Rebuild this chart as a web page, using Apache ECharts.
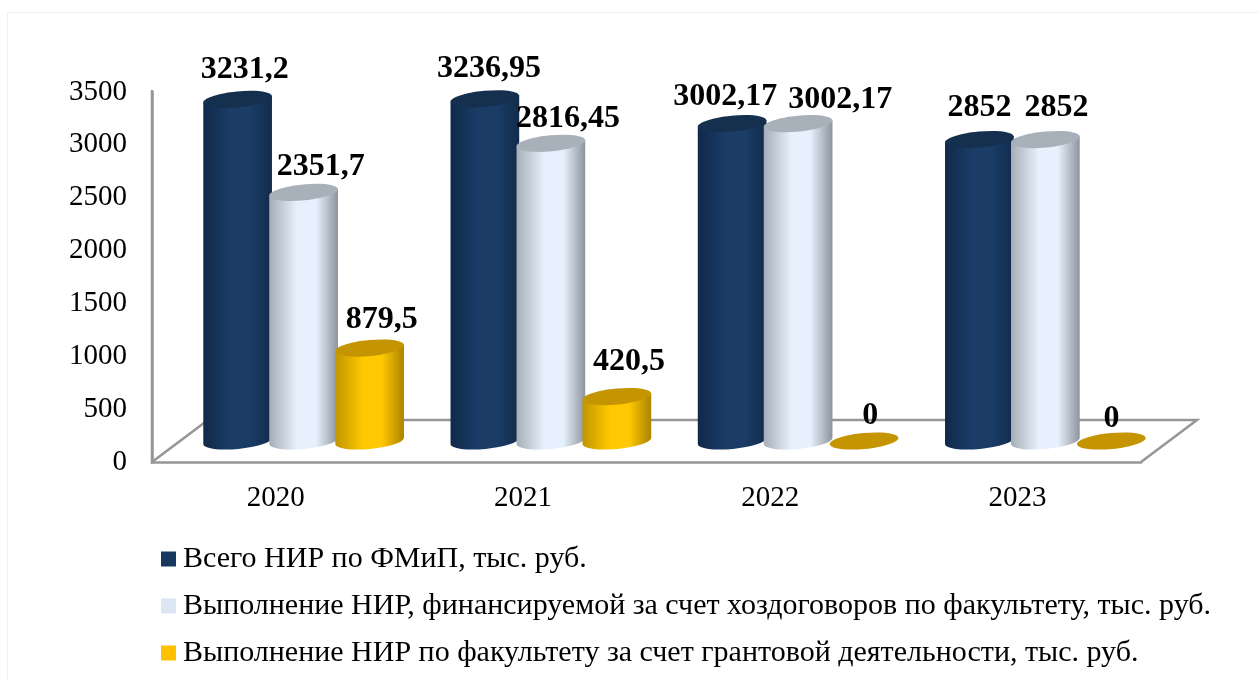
<!DOCTYPE html>
<html>
<head>
<meta charset="utf-8">
<style>
  html, body { margin: 0; padding: 0; background: #fff; }
  #chart { width: 1259px; height: 681px; }
</style>
<script src="https://cdn.jsdelivr.net/npm/echarts@6/dist/echarts.min.js"></script>
</head>
<body>
<div id="chart"></div>
<script>
const years = ['2020', '2021', '2022', '2023'];
const totalNir = [3231.2, 3236.95, 3002.17, 2852];
const contractNir = [2351.7, 2816.45, 3002.17, 2852];
const grantNir = [879.5, 420.5, 0, 0];
const seriesNames = [
  'Всего НИР по ФМиП, тыс. руб.',
  'Выполнение НИР, финансируемой за счет хоздоговоров по факультету, тыс. руб.',
  'Выполнение НИР по факультету за счет грантовой деятельности, тыс. руб.'
];

const font = '"Liberation Serif", "Times New Roman", serif';
// floor of the 3d box: how far the back edge sits from the front edge
const depthX = 56;
const depthY = 42;
const rx = 34.5;
const ry = 8;
const tilt = 5.5 * Math.PI / 180;
const barStep = 66;

// hand placed labels in the original: [dx, dy] from the top of each cylinder
const labelNudge = [
  [[7, -30], [4, -30], [-7, -27], [0, -32]],
  [[17, -26], [17, -25], [42, -24], [11, -32]],
  [[12, -28], [12, -35], [6, -25], [0, -22]]
];

const looks = [
  { legend: '#17375e', top: '#15304f', edge: ['#10294a', '#1a3c66', '#1a3c66', '#122b4c'] },
  { legend: '#dce6f2', top: '#a8b1ba', edge: ['#a6adb6', '#e6f1fd', '#e6f1fd', '#8c939c'] },
  { legend: '#ffc000', top: '#c49500', edge: ['#c09500', '#ffc800', '#ffc800', '#a98300'] }
];

function cylinder(seriesIndex) {
  const look = looks[seriesIndex];
  return function (params, api) {
    const cat = api.value(0);
    const val = api.value(1);
    const base = api.coord([cat, 0]);
    const top = api.coord([cat, val]);
    const cx = base[0] + depthX / 2 + (seriesIndex - 1) * barStep;
    const by = base[1] - depthY / 2;
    const ty = top[1] - depthY / 2;
    const sx = rx * Math.cos(tilt);
    const sy = rx * Math.sin(tilt);
    const nudge = labelNudge[seriesIndex][params.dataIndex];
    const children = [];
    if (val > 0) {
      children.push({
        type: 'path',
        shape: {
          pathData: 'M' + (cx - sx) + ' ' + (ty + sy) +
            'L' + (cx - sx) + ' ' + (by + sy) +
            'A' + rx + ' ' + ry + ' ' + (-5.5) + ' 0 0 ' + (cx + sx) + ' ' + (by - sy) +
            'L' + (cx + sx) + ' ' + (ty - sy) + 'Z'
        },
        style: {
          fill: new echarts.graphic.LinearGradient(0, 0, 1, 0, [
            { offset: 0, color: look.edge[0] },
            { offset: 0.4, color: look.edge[1] },
            { offset: 0.68, color: look.edge[2] },
            { offset: 1, color: look.edge[3] }
          ])
        }
      });
    }
    children.push({
      type: 'ellipse',
      shape: { cx: 0, cy: 0, rx: rx, ry: ry },
      x: cx,
      y: ty,
      rotation: tilt,
      style: { fill: look.top }
    });
    children.push({
      type: 'text',
      style: {
        text: String(val).replace('.', ','),
        x: cx + nudge[0],
        y: ty + nudge[1],
        align: 'center',
        verticalAlign: 'middle',
        font: 'bold 32px ' + font,
        fill: '#000'
      }
    });
    return { type: 'group', children: children };
  };
}

function floorFrame(params, api) {
  const left = api.coord([0, 0]);
  const band = api.size([1, 0])[0];
  const x0 = left[0] - band / 2;
  const x1 = x0 + band * years.length;
  const y0 = left[1];
  const yTop = api.coord([0, 3500])[1] - 2;
  return {
    type: 'polyline',
    shape: {
      points: [
        [x0, yTop],
        [x0, y0],
        [x0 + depthX, y0 - depthY],
        [x1 + depthX, y0 - depthY],
        [x1, y0]
      ]
    },
    style: { fill: null, stroke: '#969696', lineWidth: 2.5 }
  };
}

function toPairs(values) {
  return values.map(function (v, i) { return [i, v]; });
}

const chart = echarts.init(document.getElementById('chart'));
chart.setOption({
  backgroundColor: '#fff',
  animation: false,
  graphic: [{
    type: 'rect',
    silent: true,
    z: -10,
    shape: { x: 7.5, y: 12.5, width: 1300, height: 700 },
    style: { fill: '#fff', stroke: '#efefef', lineWidth: 1 }
  }],
  grid: { left: 152, right: 118, top: 92, bottom: 219 },
  legend: {
    orient: 'vertical',
    left: 156,
    top: 539,
    itemWidth: 15,
    itemHeight: 15,
    itemGap: 17,
    icon: 'rect',
    textStyle: { fontFamily: font, fontSize: 30, color: '#000', padding: [0, 0, 0, 2] },
    data: seriesNames
  },
  xAxis: {
    type: 'category',
    data: years,
    axisTick: { show: false },
    axisLine: { lineStyle: { color: '#969696', width: 2.5 } },
    axisLabel: { fontFamily: font, fontSize: 29, color: '#000', margin: 22 }
  },
  yAxis: {
    type: 'value',
    min: 0,
    max: 3500,
    interval: 500,
    splitLine: { show: false },
    axisTick: { show: false },
    axisLine: { show: true, lineStyle: { color: '#969696', width: 2.5 } },
    axisLabel: {
      fontFamily: font,
      fontSize: 29,
      color: '#000',
      margin: 25,
      formatter: function (v) { return String(v); }
    }
  },
  series: [
    { type: 'custom', silent: true, z: 1, renderItem: floorFrame, data: [[0, 0]], legendHoverLink: false },
    { type: 'custom', name: seriesNames[0], z: 2, renderItem: cylinder(0), data: toPairs(totalNir), itemStyle: { color: looks[0].legend } },
    { type: 'custom', name: seriesNames[1], z: 2, renderItem: cylinder(1), data: toPairs(contractNir), itemStyle: { color: looks[1].legend } },
    { type: 'custom', name: seriesNames[2], z: 2, renderItem: cylinder(2), data: toPairs(grantNir), itemStyle: { color: looks[2].legend } }
  ]
});
</script>
</body>
</html>
